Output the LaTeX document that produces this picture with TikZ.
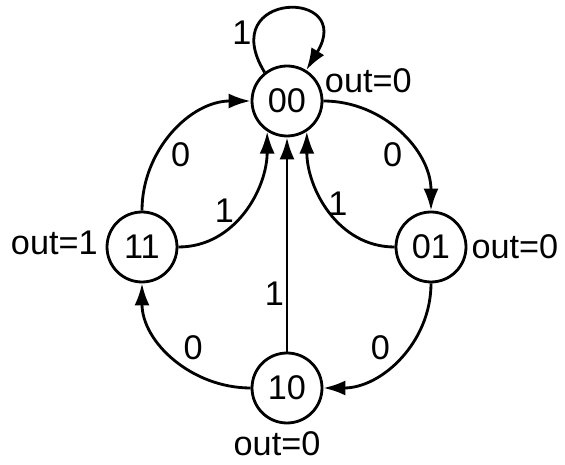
\documentclass[tikz,border=0pt]{standalone}
\usepackage{fontspec}
\setmainfont{Liberation Sans}
\usetikzlibrary{arrows.meta}

\begin{document}
\begin{tikzpicture}[x=0.02cm, y=-0.02cm,
    fsm/.style={draw, circle, line width=1.6pt, minimum size=1.4cm, inner sep=0pt,
                font=\fontsize{19.5}{23}\selectfont},
    trans/.style={line width=1.6pt, -{Latex[length=0.44cm, width=0.3cm]}},
    lbl/.style={inner sep=1pt, font=\fontsize{19.5}{23}\selectfont},
    every label/.style={inner sep=1pt, font=\fontsize{19.5}{23}\selectfont}]
    \useasboundingbox (0,0) rectangle (565,465);

    \node[fsm, label={[anchor=south west]10:out=0}] (s00) at (287,101) {00};
    \node[fsm, label={[anchor=east, label distance=0.12cm]175:out=1}] (s11) at (142,247) {11};
    \node[fsm, label={[anchor=west, label distance=0.04cm]0:out=0}] (s01) at (431,247) {01};
    \node[fsm, label={[anchor=north, label distance=0.1cm, xshift=-0.2cm]-90:out=0}] (s10) at (287,388) {10};

    \draw[trans] (s00.128) .. controls +(-50,-82) and +(50,-82) .. (s00.58)
        node[lbl, pos=0.2, anchor=east] {1};
    \draw[trans] (s00.east) to[out=0, in=90] node[lbl, pos=0.55, anchor=north east] {0} (s01.north);
    \draw[trans] (s01.west) to[out=180, in=-90] node[lbl, pos=0.55, anchor=west] {1} (s00.-57);
    \draw[trans] (s01.south) to[out=-90, in=0] node[lbl, pos=0.55, anchor=south east] {0} (s10.east);
    \draw[trans] (s10.north) -- node[lbl, pos=0.27, anchor=east] {1} (s00.south);
    \draw[trans] (s10.west) to[out=180, in=-90] node[lbl, pos=0.45, anchor=south west] {0} (s11.south);
    \draw[trans] (s11.east) to[out=0, in=-90] node[lbl, pos=0.5, left=4pt] {1} (s00.-123);
    \draw[trans] (s11.north) to[out=90, in=180] node[lbl, pos=0.45, anchor=north west] {0} (s00.west);
\end{tikzpicture}
\end{document}
